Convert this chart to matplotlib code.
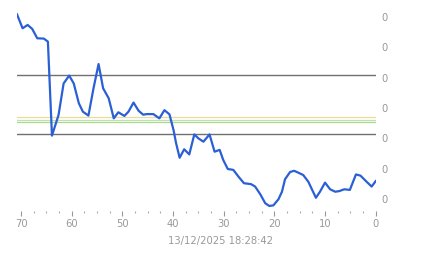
import matplotlib
matplotlib.use('Agg')
import matplotlib.pyplot as plt
from matplotlib.ticker import MultipleLocator, FuncFormatter

# age of each sample (x) and the value (y)
ages = [70.8, 69.7, 68.7, 67.8, 66.8, 65.5, 64.7, 63.9, 62.6, 61.6,
        60.5, 59.6, 58.6, 57.8, 56.7, 55.7, 54.7, 53.8, 52.7, 51.7,
        50.8, 49.6, 48.8, 47.8, 46.8, 45.9, 45.2, 43.9, 42.7, 41.7,
        40.7, 39.9, 39.4, 38.7, 37.8, 36.8, 35.8, 35.0, 34.0, 32.8,
        31.8, 30.8, 30.1, 29.2, 28.1, 27.1, 26.0, 24.6, 23.8, 22.8,
        21.8, 21.0, 20.2, 19.2, 18.5, 17.9, 16.9, 16.1, 15.3, 14.3,
        13.3, 11.8, 11.0, 10.0, 9.0, 8.0, 7.2, 6.2, 5.1, 3.9,
        3.0, 1.8, 0.8, 0.0]
values = [0.609, 0.563, 0.574, 0.561, 0.530, 0.529, 0.519, 0.209, 0.277, 0.381,
          0.407, 0.381, 0.316, 0.288, 0.275, 0.365, 0.445, 0.365, 0.332, 0.266,
          0.286, 0.274, 0.288, 0.318, 0.291, 0.278, 0.280, 0.280, 0.266, 0.293,
          0.279, 0.227, 0.184, 0.136, 0.164, 0.147, 0.213, 0.200, 0.189, 0.213,
          0.156, 0.162, 0.129, 0.099, 0.096, 0.074, 0.052, 0.049, 0.041, 0.016,
          -0.014, -0.023, -0.021, -0.001, 0.024, 0.065, 0.089, 0.093, 0.087, 0.079,
          0.057, 0.004, 0.024, 0.054, 0.032, 0.024, 0.026, 0.032, 0.030, 0.081,
          0.077, 0.057, 0.041, 0.059]

# reference levels
limit_levels = [0.409, 0.213]
band_levels = [0.270, 0.260, 0.254]
band_colors = ['#e9dc9a', '#bfe3a8', '#a9d98f']

y_ticks = [0.0, 0.1, 0.2, 0.3, 0.4, 0.5, 0.6]
stamp = '13/12/2025 18:28:42'

fig = plt.figure(figsize=(4.43, 2.58), dpi=100)
ax = fig.add_axes([17 / 443, 47 / 258, 358.7 / 443, 201 / 258])

for lv in limit_levels:
    ax.axhline(lv, color='#707070', lw=1.0, zorder=1)
for lv, c in zip(band_levels, band_colors):
    ax.axhline(lv, color=c, lw=0.9, zorder=1)

ax.plot(ages, values, color='#2b5fd6', lw=1.6, zorder=3)

ax.set_xlim(70.8, 0)
ax.set_ylim(-0.0396, 0.6233)

ax.xaxis.set_major_locator(MultipleLocator(10))
ax.xaxis.set_minor_locator(MultipleLocator(2.5))
ax.set_yticks(y_ticks)
# the source shows these values with no decimals, so every label reads 0
ax.yaxis.set_major_formatter(FuncFormatter(lambda v, _: str(int(v))))
ax.yaxis.tick_right()

for s in ax.spines.values():
    s.set_visible(False)

ax.tick_params(axis='x', which='major', length=3.5, width=0.8, color='#999999',
               labelcolor='#999999', labelsize=7.2, pad=2)
ax.tick_params(axis='x', which='minor', length=1.2, width=0.8, color='#aaaaaa')
ax.tick_params(axis='y', length=0, labelcolor='#999999', labelsize=7.2, pad=4)

fig.text(220.5 / 443, 1 - 240.7 / 258, stamp, ha='center', va='center',
         color='#999999', fontsize=7.2)

fig.savefig('out.png', dpi=100)
